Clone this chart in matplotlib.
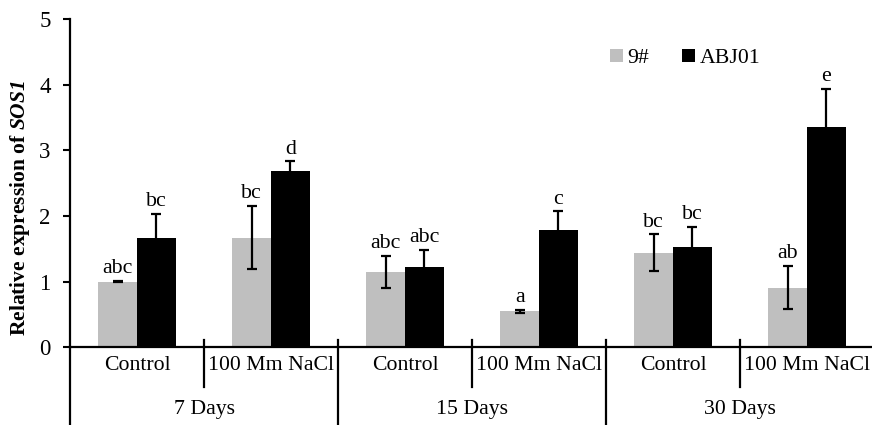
import matplotlib.pyplot as plt
import numpy as np

plt.rcParams['font.family'] = ['Liberation Serif', 'DejaVu Serif']
plt.rcParams['mathtext.fontset'] = 'custom'
plt.rcParams['mathtext.rm'] = 'Liberation Serif'
plt.rcParams['mathtext.it'] = 'Liberation Serif:italic'
plt.rcParams['mathtext.bf'] = 'Liberation Serif:bold'
plt.rcParams['mathtext.bfit'] = 'Liberation Serif:italic:bold'

# Data
treatments = ['Control', '100 Mm NaCl'] * 3
days = ['7 Days', '15 Days', '30 Days']
mean_9 = [1.00, 1.67, 1.15, 0.55, 1.44, 0.91]
err_9 = [0.01, 0.48, 0.24, 0.02, 0.28, 0.33]
mean_abj = [1.67, 2.69, 1.23, 1.79, 1.53, 3.36]
err_abj = [0.36, 0.14, 0.25, 0.28, 0.30, 0.57]
letters_9 = ['abc', 'bc', 'abc', 'a', 'bc', 'ab']
letters_abj = ['bc', 'd', 'abc', 'c', 'bc', 'e']

fig = plt.figure(figsize=(8.72, 4.25), dpi=100)
ax = fig.add_axes([70 / 872, 77.7 / 425, 804 / 872, 328.3 / 425])

x = np.arange(len(treatments)) + 0.5
w = 0.29
fs = 15.7
ekw = dict(elinewidth=1.6, capthick=1.6, ecolor='black')
ax.bar(x - w / 2, mean_9, w, color='#bfbfbf', label='9#')
ax.bar(x + w / 2, mean_abj, w, color='black', label='ABJ01')
ax.errorbar(x - w / 2, mean_9, yerr=err_9, fmt='none', capsize=3.5, **ekw)
ax.errorbar(x + w / 2, mean_abj, yerr=err_abj, fmt='none', capsize=3.5, **ekw)

for xi, m, e, t in zip(x - w / 2, mean_9, err_9, letters_9):
    ax.annotate(t, (xi, m + e), xytext=(0, 2), textcoords='offset points',
                ha='center', va='bottom', fontsize=fs)
for xi, m, e, t in zip(x + w / 2, mean_abj, err_abj, letters_abj):
    ax.annotate(t, (xi, m + e), xytext=(0, 2), textcoords='offset points',
                ha='center', va='bottom', fontsize=fs)

ax.set_xlim(0, 6)
ax.set_ylim(0, 5)
ax.set_yticks(range(6))
ax.tick_params(axis='y', labelsize=16.5, length=5, width=1.5, pad=9)
ax.set_xticks([])
for s in ['top', 'right']:
    ax.spines[s].set_visible(False)
for s in ['left', 'bottom']:
    ax.spines[s].set_linewidth(1.6)

# hierarchical x labels
tr = ax.get_xaxis_transform()
for i, t in enumerate(treatments):
    ax.text(x[i], -0.054, t, transform=tr, ha='center', va='center', fontsize=fs)
for i, d in enumerate(days):
    ax.text(2 * i + 1, -0.19, d, transform=tr, ha='center', va='center', fontsize=fs)
for b in [1, 3, 5]:
    ax.plot([b, b], [0.022, -0.121], transform=tr, color='black', lw=1.6, clip_on=False)
for b in [0, 2, 4, 6]:
    ax.plot([b, b], [0.022 if b else 0, -0.25], transform=tr, color='black', lw=1.6, clip_on=False)

fig.text(20 / 872, (425 - 208) / 425, r'Relative expression of $\mathbfit{SOS1}$',
         rotation=90, ha='center', va='center', fontsize=15.5, fontweight='bold')

ax.legend(loc='center', bbox_to_anchor=(0.765, 0.88), ncol=2, frameon=False,
          fontsize=fs, handlelength=0.6, handleheight=0.6, handletextpad=0.2,
          columnspacing=1.5)

fig.savefig('out.png', dpi=100)
